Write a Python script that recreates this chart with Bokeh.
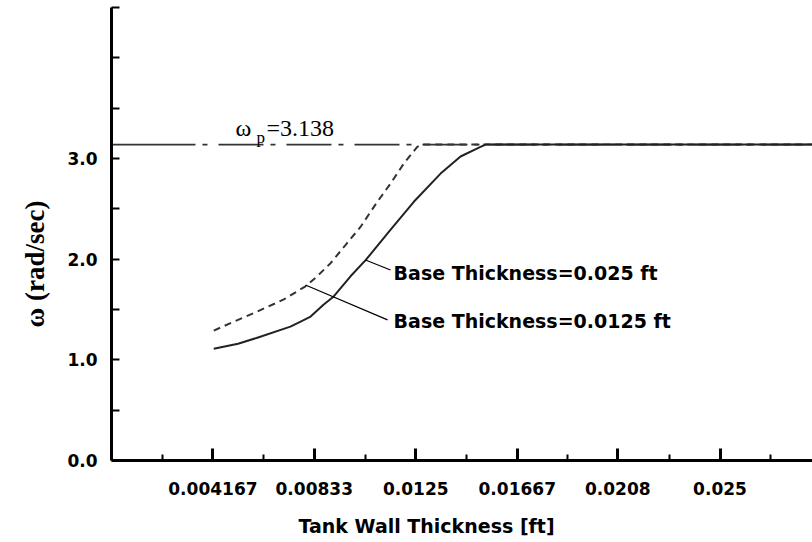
from bokeh.plotting import figure
from bokeh.models import FixedTicker, Label, Range1d, Title
from bokeh.embed import file_html
from bokeh.resources import INLINE

# ---- data ----
x_ticks = [0.004167, 0.00833, 0.0125, 0.01667, 0.0208, 0.025]
x_tick_labels = ["0.004167", "0.00833", "0.0125", "0.01667", "0.0208", "0.025"]
x_minor = [0.002083, 0.00625, 0.010417, 0.014583, 0.01875, 0.022917, 0.027083]

y_ticks = [0.0, 1.0, 2.0, 3.0]
y_tick_labels = ["0.0", "1.0", "2.0", "3.0"]
y_minor = [0.5, 1.5, 2.5, 3.5, 4.0, 4.5]

wp = 3.138
wp_x = [0.0, 0.00345, 0.0288]

# Base thickness = 0.025 ft (solid)
solid_x = [0.00420, 0.00520, 0.00599, 0.00735, 0.00777, 0.00818, 0.00872, 0.00913, 0.00982,
           0.01044, 0.01146, 0.01242, 0.01352, 0.01434, 0.01516, 0.01537, 0.0288]
solid_y = [1.11, 1.16, 1.22, 1.33, 1.38, 1.43, 1.55, 1.63, 1.83,
           1.99, 2.29, 2.57, 2.85, 3.02, 3.115, 3.138, 3.138]

# Base thickness = 0.0125 ft (dashed)
dash_x = [0.00420, 0.00489, 0.00599, 0.00708, 0.00797, 0.00845, 0.00900, 0.00968,
          0.01023, 0.01092, 0.01146, 0.01201, 0.01256, 0.01275, 0.0288]
dash_y = [1.29, 1.365, 1.48, 1.60, 1.73, 1.83, 1.96, 2.16,
          2.32, 2.57, 2.75, 2.95, 3.115, 3.138, 3.138]

# pointer lines (curve point -> label)
ptr1_x = [0.010435, 0.011463]
ptr1_y = [1.992, 1.893]
ptr2_x = [0.00797, 0.01134]
ptr2_y = [1.744, 1.397]

p = figure(width=812, height=542, x_range=Range1d(0, 0.0288), y_range=Range1d(0, 4.5),
           min_border_left=111, min_border_right=0, min_border_top=7, min_border_bottom=81,
           toolbar_location=None, output_backend="svg")
p.outline_line_color = None
p.grid.visible = False
p.background_fill_color = "white"
p.border_fill_color = "white"

# axes
xa = p.xaxis[0]
xa.ticker = FixedTicker(ticks=x_ticks, minor_ticks=x_minor)
xa.major_label_overrides = {t: l for t, l in zip(x_ticks, x_tick_labels)}
ya = p.yaxis[0]
ya.ticker = FixedTicker(ticks=y_ticks, minor_ticks=y_minor)
ya.major_label_overrides = {t: l for t, l in zip(y_ticks, y_tick_labels)}

for ax in (xa, ya):
    ax.axis_line_width = 3
    ax.axis_line_color = "black"
    ax.major_tick_out = 0
    ax.minor_tick_out = 0
    ax.major_tick_line_color = "black"
    ax.minor_tick_line_color = "black"
    ax.major_label_text_font = "DejaVu Sans"
    ax.major_label_text_font_style = "bold"
    ax.major_label_text_font_size = "17px"
    ax.major_label_text_color = "black"

xa.major_tick_in = 12
xa.major_tick_line_width = 3
xa.minor_tick_in = 6
xa.minor_tick_line_width = 2
xa.major_label_standoff = 21

ya.major_tick_in = 8
ya.major_tick_line_width = 2
ya.minor_tick_in = 8
ya.minor_tick_line_width = 2
ya.major_label_standoff = 14

# axis titles as side titles (not clipped)
spacer = Title(text=" ", text_font_size="10px", standoff=0)
p.add_layout(spacer, "below")
x_title = Title(text="Tank Wall Thickness [ft]", align="left", offset=187,
                text_font="DejaVu Sans", text_font_style="bold", text_font_size="19px",
                text_color="black", standoff=8, vertical_align="top")
p.add_layout(x_title, "below")
y_title = Title(text="ω (rad/sec)", align="left", offset=133,
                text_font="Liberation Serif", text_font_style="bold", text_font_size="27px",
                text_color="black", standoff=30)
p.add_layout(y_title, "left")

# omega_p reference line
p.line(wp_x[:2], [wp, wp], line_color="#333333", line_width=1.6)
p.line(wp_x[1:], [wp, wp], line_color="#333333", line_width=1.6,
       line_dash="45 7 5 11", line_dash_offset=45)

# curves
p.line(dash_x, dash_y, line_color="#333333", line_width=2, line_dash="7 5", line_join="round")
p.line(solid_x, solid_y, line_color="#222222", line_width=2, line_join="round")

# pointers
p.line(ptr1_x, ptr1_y, line_color="black", line_width=1.2)
p.line(ptr2_x, ptr2_y, line_color="black", line_width=1.2)

lab_font = "DejaVu Sans"
p.add_layout(Label(x=0.01159, y=1.863, text="Base Thickness=0.025 ft", text_font=lab_font,
                   text_font_style="bold", text_font_size="19px", text_baseline="middle",
                   text_color="black"))
p.add_layout(Label(x=0.01159, y=1.388, text="Base Thickness=0.0125 ft", text_font=lab_font,
                   text_font_style="bold", text_font_size="19px", text_baseline="middle",
                   text_color="black"))

# omega_p label
serif = "Liberation Serif"
p.add_layout(Label(x=0.005094, y=3.300, text="ω", text_font=serif, text_font_size="24px",
                   text_baseline="alphabetic", text_color="black"))
p.add_layout(Label(x=0.005960, y=3.205, text="p", text_font=serif, text_font_size="17px",
                   text_baseline="alphabetic", text_color="black"))
p.add_layout(Label(x=0.006370, y=3.300, text="=3.138", text_font=serif, text_font_size="24px",
                   text_baseline="alphabetic", text_color="black"))

open("out.html", "w").write(file_html(p, INLINE))
